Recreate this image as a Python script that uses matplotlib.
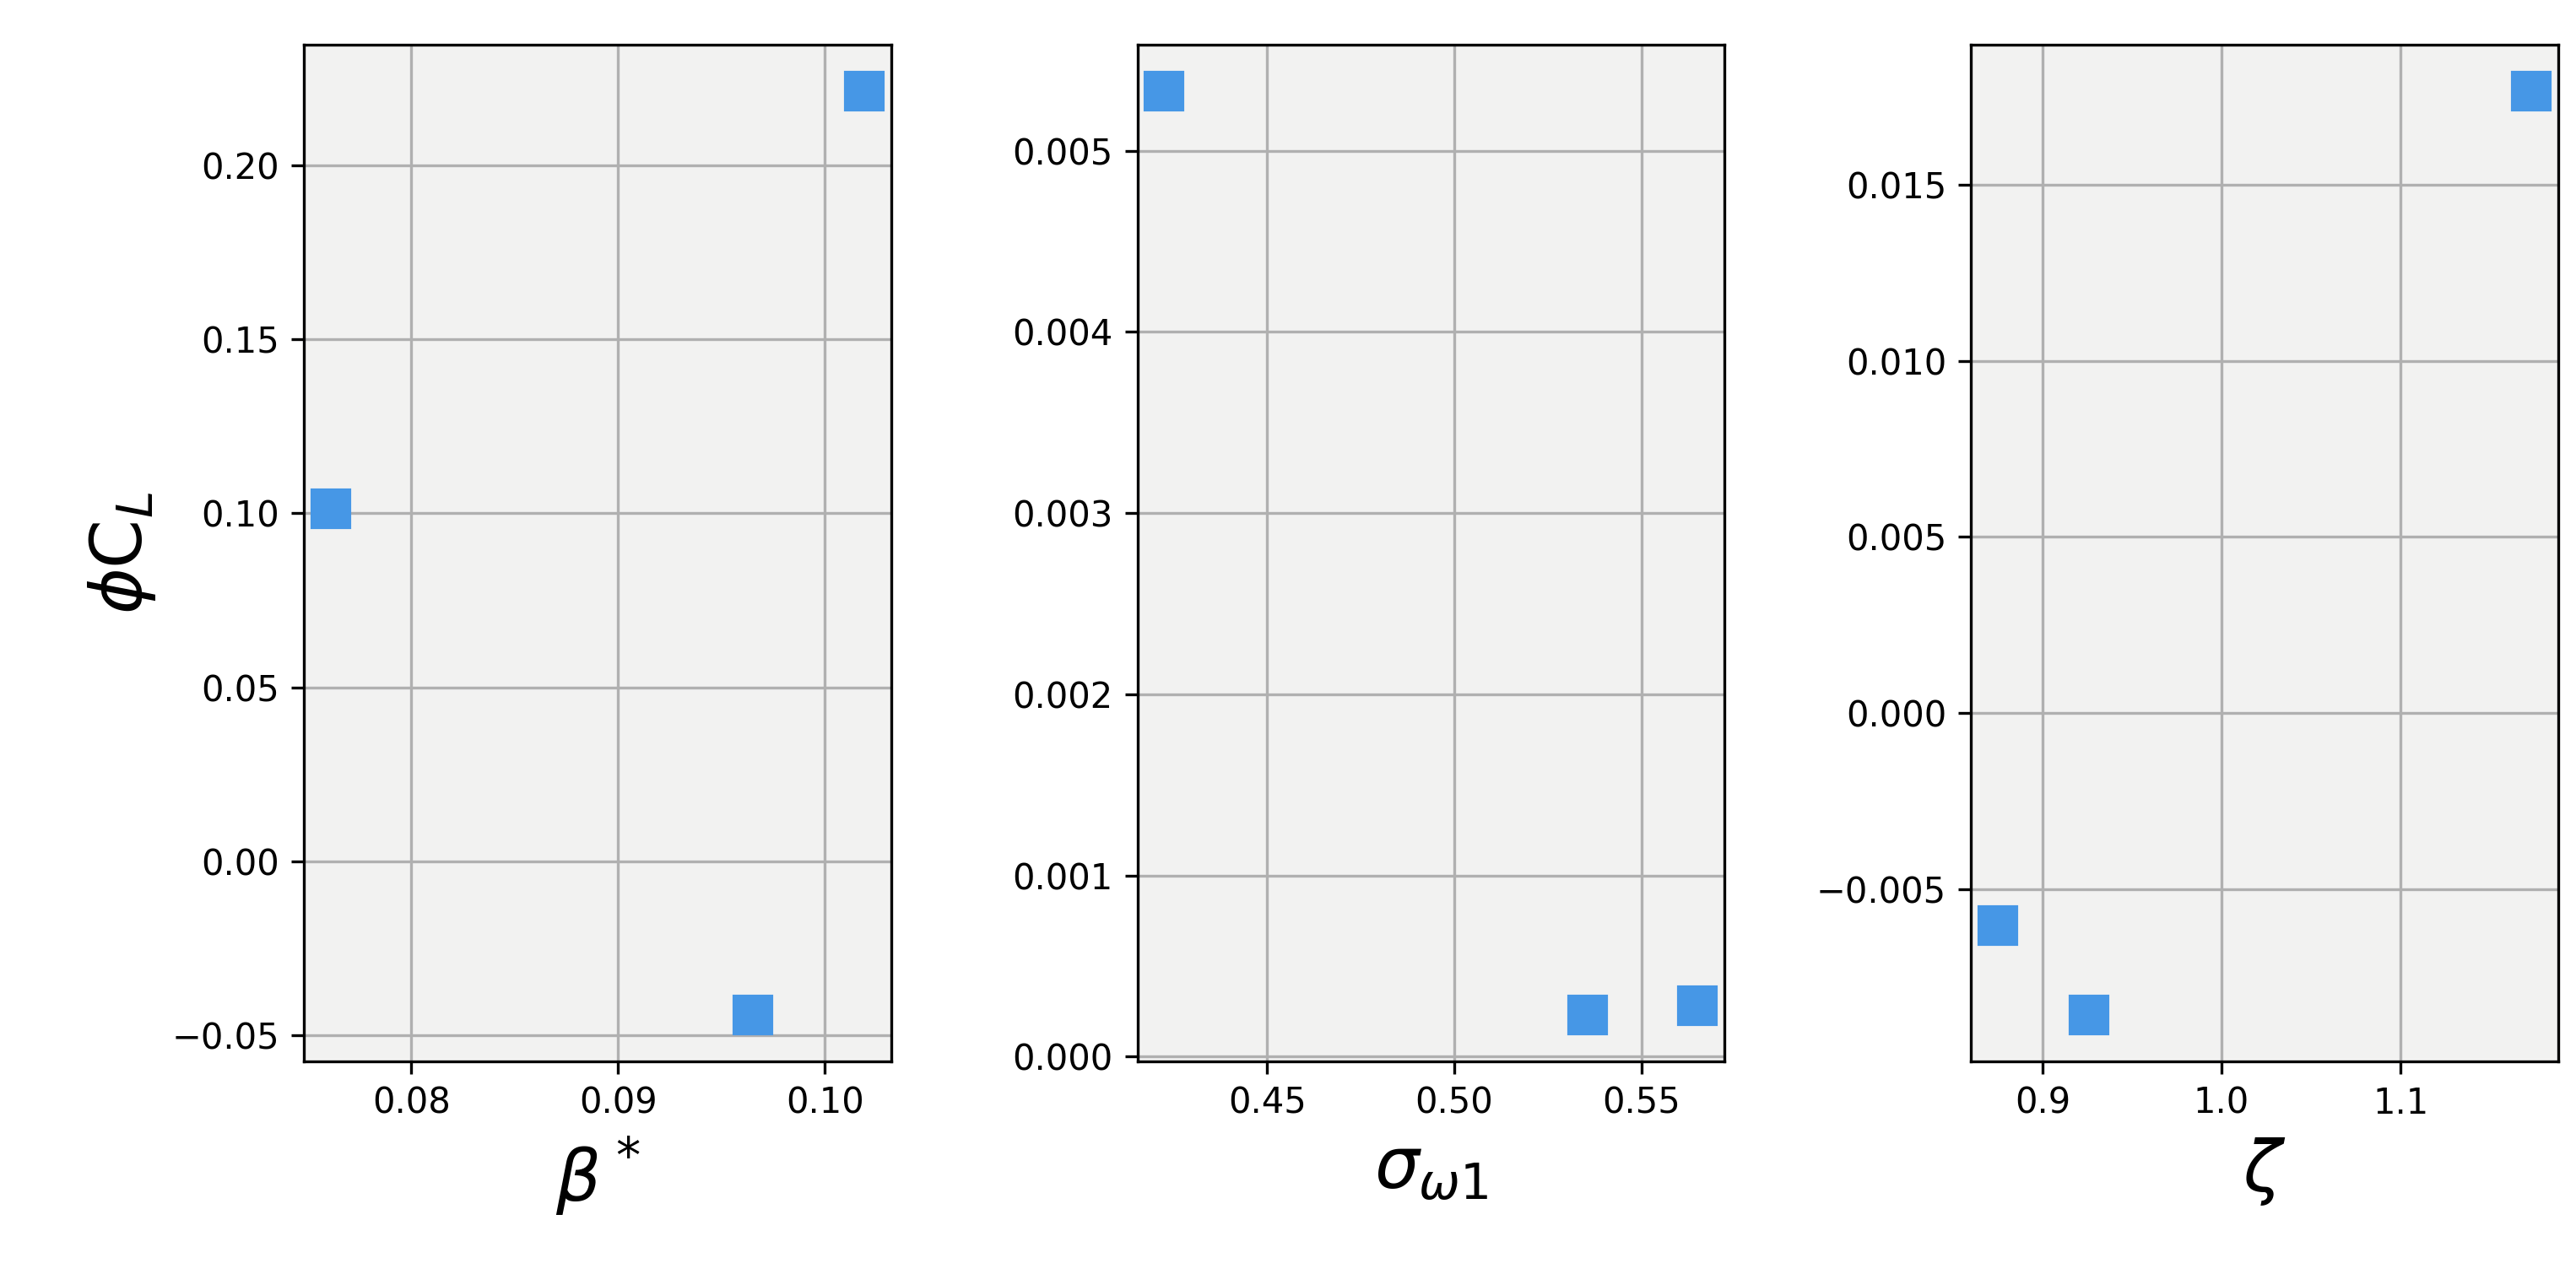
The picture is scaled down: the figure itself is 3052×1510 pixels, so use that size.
import matplotlib
matplotlib.use("Agg")
import matplotlib.pyplot as plt

beta = [0.0761, 0.0965, 0.1019]
beta_cl = [0.1014, -0.0441, 0.2213]
sigma = [0.4225, 0.5355, 0.5650]
sigma_cl = [0.00533, 0.00023, 0.00028]
zeta = [0.875, 0.926, 1.173]
zeta_cl = [-0.00605, -0.00858, 0.01767]
xlabels = [r"$\beta^*$", r"$\sigma_{\omega 1}$", r"$\zeta$"]

fig, axes = plt.subplots(1, 3, figsize=(3052/300, 1510/300), dpi=300)
fig.subplots_adjust(left=0.118, right=0.993, top=0.965, bottom=0.167, wspace=0.42)
for ax, x, y, lab in zip(axes, [beta, sigma, zeta], [beta_cl, sigma_cl, zeta_cl], xlabels):
    ax.set_facecolor("#f2f2f1")
    ax.grid(True, color="#b0b0b0", linewidth=0.8)
    ax.set_axisbelow(True)
    ax.plot(x, y, "s", color="#4697e6", markersize=10.5, linestyle="none")
    ax.set_xlabel(lab, fontsize=20)
    ax.tick_params(labelsize=10)
axes[0].set_ylabel(r"$\phi \mathrm{C}_L$", fontsize=20)
axes[1].set_xticks([0.45, 0.50, 0.55])
axes[2].set_xticks([0.9, 1.0, 1.1])
axes[2].set_yticks([-0.005, 0.0, 0.005, 0.010, 0.015])
fig.savefig("out.png", dpi=300)
